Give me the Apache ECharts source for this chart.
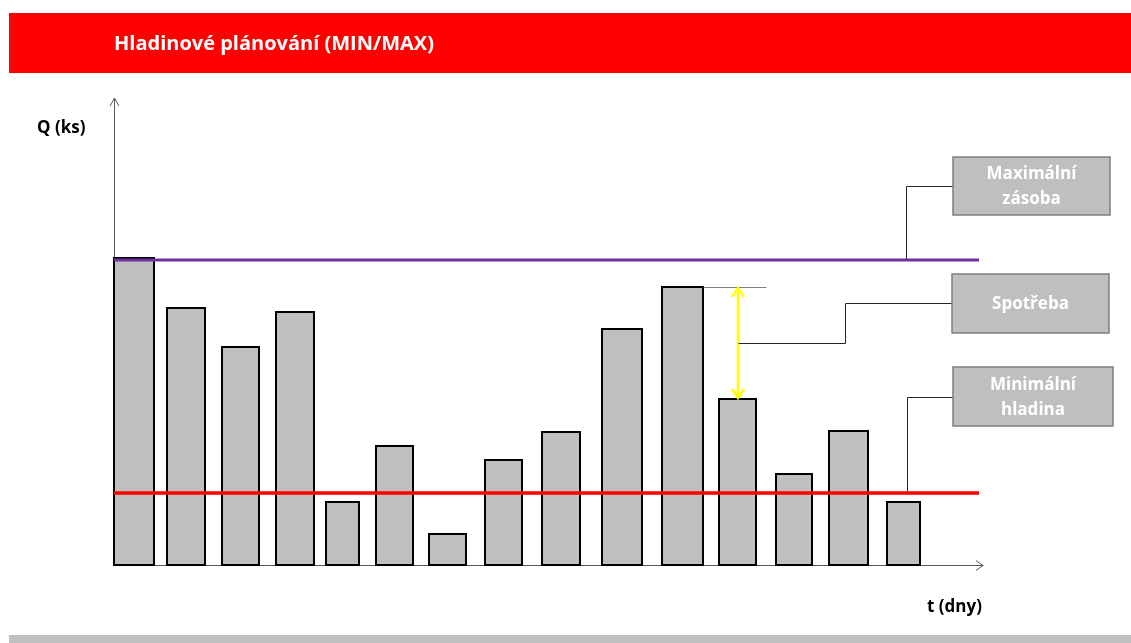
<!DOCTYPE html>
<html>
<head>
<meta charset="utf-8">
<script src="https://cdn.jsdelivr.net/npm/echarts@6/dist/echarts.min.js"></script>
<style>html,body{margin:0;padding:0;background:#fff;}#c{width:1131px;height:643px;}</style>
</head>
<body>
<div id="c"></div>
<script>
// ---- data (axis units) ----
const barStart = [0, 53, 108, 162, 212, 262, 315, 371, 428, 488, 548, 605, 662, 715, 773];
const barEnd   = [40, 91, 145, 200, 245, 299, 352, 408, 466, 528, 589, 642, 698, 754, 806];
const stock    = [307, 257, 218, 253, 63, 119, 31, 105, 133, 236, 278, 166, 91, 134, 63];
const maxLevel = 305;
const minLevel = 72;
const levelSpan = [0, 865];
const titleText = 'Hladinové plánování (MIN/MAX)';
const yName = 'Q (ks)';
const xName = 't (dny)';
const boxLabels = [['Maximální', 'zásoba'], ['Spotřeba'], ['Minimální', 'hladina']];
// consumption arrow: between bar 11 top and bar 12 top
const consFrom = 10, consTo = 11;

// ---- layout (not data) ----
const X_MAX = 870, Y_MAX = 467;
const FONT = '"Open Sans", Lato, sans-serif';

const chart = echarts.init(document.getElementById('c'));

const barData = barStart.map((s, i) => [s, barEnd[i], stock[i]]);

function seg(api, pts, style) {
  return {
    type: 'polyline', silent: true, style: style,
    shape: { points: pts.map(p => { const c = api.coord(p); return [Math.round(c[0]) + 0.5, Math.round(c[1]) + 0.5]; }) }
  };
}

function renderAxes(params, api) {
  const ch = [];
  const axisStyle = { stroke: '#595959', lineWidth: 1, fill: null };
  ch.push(seg(api, [[0, 0], [0, Y_MAX]], axisStyle));
  ch.push(seg(api, [[0, 0], [X_MAX - 1, 0]], axisStyle));
  const top = api.coord([0, Y_MAX]);
  top[0] += 0.5;
  ch.push({ type: 'polyline', shape: { points: [[top[0] - 4.5, top[1] + 8], top, [top[0] + 4.5, top[1] + 8]] }, style: axisStyle });
  const rt = api.coord([X_MAX - 1, 0]);
  rt[1] += 0.5;
  ch.push({ type: 'polyline', shape: { points: [[rt[0] - 7, rt[1] - 5], rt, [rt[0] - 7, rt[1] + 5]] }, style: axisStyle });
  return { type: 'group', children: ch };
}

function renderAnnot(params, api) {
  const ch = [];
  // consumption reference line from top of bar 11
  const conX = 624;
  ch.push(seg(api, [[barEnd[consFrom], stock[consFrom]], [652, stock[consFrom]]], { stroke: '#808080', lineWidth: 1, fill: null }));
  // yellow double arrow
  const yStyle = { stroke: '#ffff00', lineWidth: 2.5, fill: null };
  const a = api.coord([conX, stock[consFrom]]);
  const b = api.coord([conX, stock[consTo]]);
  ch.push({ type: 'polyline', shape: { points: [[a[0], a[1] + 1], [b[0], b[1] - 1]] }, style: yStyle });
  ch.push({ type: 'polyline', shape: { points: [[a[0] - 6, a[1] + 10], [a[0], a[1] + 1], [a[0] + 6, a[1] + 10]] }, style: yStyle });
  ch.push({ type: 'polyline', shape: { points: [[b[0] - 6, b[1] - 10], [b[0], b[1] - 1], [b[0] + 6, b[1] - 10]] }, style: yStyle });

  // connectors
  const cStyle = { stroke: '#262626', lineWidth: 1, fill: null };
  ch.push(seg(api, [[745, maxLevel + 1], [792, maxLevel + 1], [792, 379], [839, 379]], cStyle));
  ch.push(seg(api, [[conX, 222], [731, 222], [731, 262], [838, 262]], cStyle));
  ch.push(seg(api, [[793, minLevel + 2], [793, 168], [839, 168]], cStyle));

  // boxes
  const boxes = [[839, 408, 996, 350], [838, 291, 995, 232], [839, 198, 999, 139]];
  boxes.forEach((bx, i) => {
    const p1 = api.coord([bx[0], bx[1]]);
    const p2 = api.coord([bx[2], bx[3]]);
    ch.push({
      type: 'rect',
      shape: { x: p1[0], y: p1[1], width: p2[0] - p1[0], height: p2[1] - p1[1] },
      style: { fill: '#bfbfbf', stroke: '#7f7f7f', lineWidth: 1.5 }
    });
    ch.push({
      type: 'text',
      x: (p1[0] + p2[0]) / 2, y: (p1[1] + p2[1]) / 2 + 1,
      style: {
        text: boxLabels[i].join('\n'), fill: '#ffffff', font: 'bold 17px ' + FONT,
        align: 'center', verticalAlign: 'middle', lineHeight: 25
      }
    });
  });
  return { type: 'group', children: ch };
}

chart.setOption({
  animation: false,
  backgroundColor: '#ffffff',
  title: {
    text: titleText, left: 114, top: 34, padding: 0,
    textStyle: { color: '#ffffff', fontSize: 20, fontWeight: 'bold', fontFamily: FONT }
  },
  graphic: [
    { type: 'rect', left: 9, top: 13, shape: { width: 1122, height: 60 }, style: { fill: '#ff0000' }, z: -1 },
    { type: 'rect', left: 9, top: 635, shape: { width: 1122, height: 8 }, style: { fill: '#bfbfbf' }, z: -1 },
    { type: 'text', left: 37, top: 120, style: { text: yName, fill: '#000', font: 'bold 17px ' + FONT } },
    { type: 'text', left: 927, top: 599, style: { text: xName, fill: '#000', font: 'bold 17px ' + FONT } }
  ],
  grid: { left: 114, top: 98, width: X_MAX, height: Y_MAX, containLabel: false },
  xAxis: {
    type: 'value', min: 0, max: X_MAX,
    axisLine: { show: false }, axisTick: { show: false }, axisLabel: { show: false }, splitLine: { show: false }
  },
  yAxis: {
    type: 'value', min: 0, max: Y_MAX,
    axisLine: { show: false }, axisTick: { show: false }, axisLabel: { show: false }, splitLine: { show: false }
  },
  series: [
    {
      type: 'custom', name: 'axes', clip: false, silent: true,
      data: [[0, 0]], renderItem: renderAxes, z: 1
    },
    {
      type: 'custom', name: 'Zásoba', clip: false,
      encode: { x: [0, 1], y: 2 },
      data: barData,
      renderItem: function (params, api) {
        const p1 = api.coord([api.value(0), api.value(2)]);
        const p2 = api.coord([api.value(1), 0]);
        return {
          type: 'rect',
          shape: { x: p1[0], y: p1[1], width: p2[0] - p1[0], height: p2[1] - p1[1] },
          style: { fill: '#bfbfbf', stroke: '#000000', lineWidth: 2 }
        };
      }
    },
    {
      type: 'line', name: 'Maximální zásoba', symbol: 'none',
      data: [[levelSpan[0], maxLevel], [levelSpan[1], maxLevel]],
      lineStyle: { color: '#7030a0', width: 3 }
    },
    {
      type: 'line', name: 'Minimální hladina', symbol: 'none',
      data: [[levelSpan[0], minLevel], [levelSpan[1], minLevel]],
      lineStyle: { color: '#ff0000', width: 3.5 }
    },
    {
      type: 'custom', name: 'annot', clip: false, silent: true,
      data: [[0, 0]],
      renderItem: renderAnnot,
      z: 3
    }
  ]
});
</script>
</body>
</html>
